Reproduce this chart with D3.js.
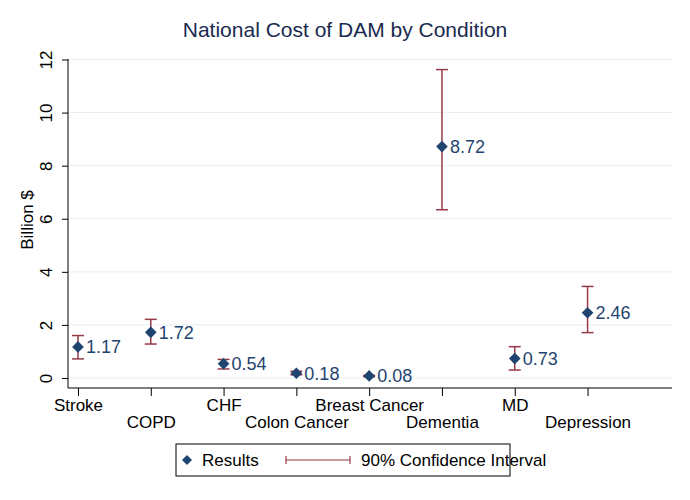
<!DOCTYPE html>
<html>
<head>
<meta charset="utf-8">
<script src="https://cdn.jsdelivr.net/npm/d3@7"></script>
<style>
body { margin: 0; background: #fff; }
svg { font-family: "Liberation Sans", Arial, sans-serif; }
</style>
</head>
<body>
<svg></svg>
<script>
var conditions = ["Stroke", "COPD", "CHF", "Colon Cancer", "Breast Cancer", "Dementia", "MD", "Depression"];
var results = [1.17, 1.72, 0.54, 0.18, 0.08, 8.72, 0.73, 2.46];
var ciLower = [0.72, 1.28, 0.34, 0.12, 0.05, 6.34, 0.30, 1.71];
var ciUpper = [1.60, 2.21, 0.70, 0.25, 0.10, 11.62, 1.18, 3.45];
var yTicks = [0, 2, 4, 6, 8, 10, 12];

var width = 690,
    height = 500;
var navy = "#1f4470",
    wine = "#953a47";

var svg = d3.select("svg")
    .attr("width", width)
    .attr("height", height);

var x = d3.scaleLinear().domain([0.863, 9.16]).range([68, 672]);
var y = d3.scaleLinear().domain([0, 12]).range([378, 59.5]);

// gridlines
svg.append("g")
    .selectAll("line")
    .data(yTicks)
    .enter().append("line")
    .attr("x1", 68).attr("x2", 672)
    .attr("y1", function(d) { return y(d); })
    .attr("y2", function(d) { return y(d); })
    .attr("stroke", "#e6eef3")
    .attr("stroke-width", 1);

// y axis
var yAxis = svg.append("g")
    .attr("transform", "translate(68,0)")
    .call(d3.axisLeft(y).tickValues(yTicks).tickSize(6).tickPadding(4));
yAxis.select(".domain").attr("stroke", "#000").attr("d", "M0,59V388");
yAxis.selectAll(".tick line").attr("stroke", "#000");
yAxis.selectAll(".tick text")
    .attr("transform", "rotate(-90)")
    .attr("x", 0)
    .attr("y", -16)
    .attr("dy", 0)
    .style("text-anchor", "middle")
    .style("font-size", "17px")
    .style("font-family", "Liberation Sans, Arial, sans-serif")
    .attr("fill", "#000");

// x axis
var xAxis = svg.append("g")
    .attr("transform", "translate(0,388)")
    .call(d3.axisBottom(x).tickValues(d3.range(1, 9)).tickSize(8)
        .tickFormat(function(d) { return conditions[d - 1]; }));
xAxis.select(".domain").attr("stroke", "#000").attr("d", "M68,0H672");
xAxis.selectAll(".tick line").attr("stroke", "#000");
xAxis.selectAll(".tick text")
    .attr("y", function(d) { return d % 2 === 1 ? 11 : 28; })
    .style("font-size", "17px")
    .style("font-family", "Liberation Sans, Arial, sans-serif")
    .attr("fill", "#000");

// y label
svg.append("text")
    .attr("transform", "translate(33,220) rotate(-90)")
    .style("text-anchor", "middle")
    .style("font-size", "17px")
    .text("Billion $");

// title
svg.append("text")
    .attr("x", 345)
    .attr("y", 37)
    .style("text-anchor", "middle")
    .style("font-size", "21px")
    .attr("fill", "#1a2a4f")
    .text("National Cost of DAM by Condition");

var pts = conditions.map(function(c, i) {
    return { i: i + 1, v: results[i], lo: ciLower[i], hi: ciUpper[i] };
});

// confidence intervals
var ci = svg.append("g").attr("stroke", wine).attr("stroke-width", 1.5);
pts.forEach(function(d) {
    ci.append("line")
        .attr("x1", x(d.i)).attr("x2", x(d.i))
        .attr("y1", y(d.lo)).attr("y2", y(d.hi));
    [d.lo, d.hi].forEach(function(v) {
        ci.append("line")
            .attr("x1", x(d.i) - 6).attr("x2", x(d.i) + 6)
            .attr("y1", y(v)).attr("y2", y(v));
    });
});

// markers (square turned 45 degrees)
var diamond = d3.symbol().type(d3.symbolSquare).size(68);
svg.append("g")
    .selectAll("path")
    .data(pts)
    .enter().append("path")
    .attr("d", diamond)
    .attr("transform", function(d) {
        return "translate(" + x(d.i) + "," + y(d.v) + ") rotate(45)";
    })
    .attr("fill", navy);

svg.append("g")
    .selectAll("text")
    .data(pts)
    .enter().append("text")
    .attr("x", function(d) { return x(d.i) + 8; })
    .attr("y", function(d) { return y(d.v) + 6.5; })
    .style("font-size", "18px")
    .attr("fill", navy)
    .text(function(d) { return d.v.toFixed(2); });

// legend
var lg = svg.append("g");
lg.append("rect")
    .attr("x", 176).attr("y", 444)
    .attr("width", 334).attr("height", 32)
    .attr("fill", "#fff")
    .attr("stroke", "#000");
lg.append("path")
    .attr("d", d3.symbol().type(d3.symbolSquare).size(50))
    .attr("transform", "translate(187,460) rotate(45)")
    .attr("fill", navy);
lg.append("text")
    .attr("x", 202).attr("y", 466)
    .style("font-size", "17px")
    .text("Results");
lg.append("line")
    .attr("x1", 286).attr("x2", 350)
    .attr("y1", 460).attr("y2", 460)
    .attr("stroke", wine).attr("stroke-width", 1.2);
[286, 350].forEach(function(px) {
    lg.append("line")
        .attr("x1", px).attr("x2", px)
        .attr("y1", 456).attr("y2", 464)
        .attr("stroke", wine).attr("stroke-width", 1.2);
});
lg.append("text")
    .attr("x", 361).attr("y", 466)
    .style("font-size", "17px")
    .text("90% Confidence Interval");
</script>
</body>
</html>
